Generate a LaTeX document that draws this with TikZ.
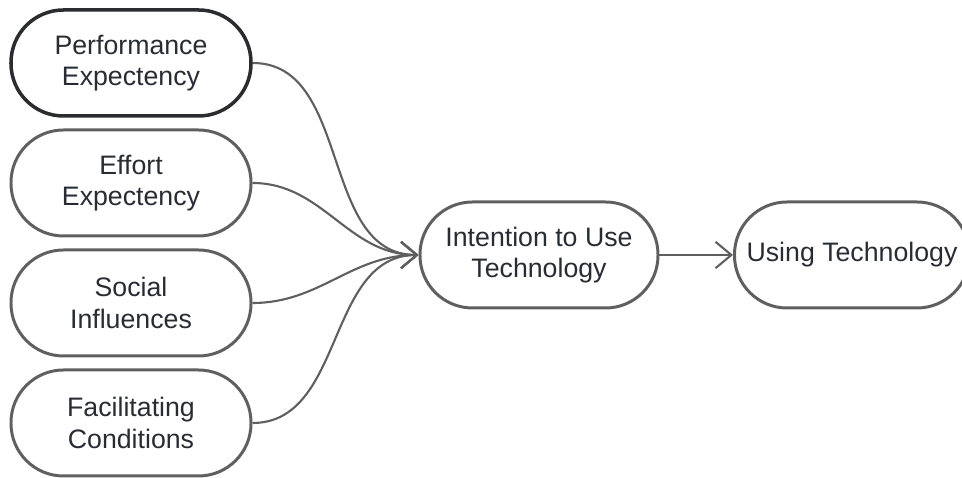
\documentclass[tikz,border=0pt]{standalone}
\usepackage{fontspec}
\setmainfont{Liberation Sans}
\usepackage{xcolor}
\usepackage{tikz}
\usetikzlibrary{positioning,arrows.meta}

\definecolor{edgegray}{HTML}{5F5F5F}
\definecolor{darkedge}{HTML}{2A2C30}
\definecolor{txt}{HTML}{282C33}

\begin{document}
\begin{tikzpicture}[
  font=\fontsize{15.2}{17.8}\selectfont,
  f/.style={draw=edgegray, line width=1.7pt, rounded corners=1.05cm, fill=white, align=center, text=txt, minimum width=4.8cm, minimum height=2.12cm, inner sep=0pt},
  c/.style={draw=edgegray, line width=1.2pt, -{Straight Barb[length=9pt, width=15pt, line width=1.2pt]}}
]
  \useasboundingbox (0,0) rectangle (19.24,9.56);
  \node[f, draw=darkedge, line width=2pt] (pe) at (2.62,8.30) {Performance\\Expectency};
  \node[f] (ee) at (2.62,5.90) {Effort\\Expectency};
  \node[f] (si) at (2.62,3.50) {Social\\Influences};
  \node[f] (fc) at (2.62,1.10) {Facilitating\\Conditions};
  \node[f, minimum width=4.76cm] (iu) at (10.78,4.46) {Intention to Use\\Technology};
  \node[f, minimum width=4.7cm] (ut) at (17.04,4.46) {Using Technology};
  \draw[c] (pe.east) to[out=0, in=180] (iu.west);
  \draw[c] (ee.east) to[out=0, in=180] (iu.west);
  \draw[c] (si.east) to[out=0, in=180] (iu.west);
  \draw[c] (fc.east) to[out=0, in=180] (iu.west);
  \draw[c] (iu) -- (ut);
\end{tikzpicture}
\end{document}
